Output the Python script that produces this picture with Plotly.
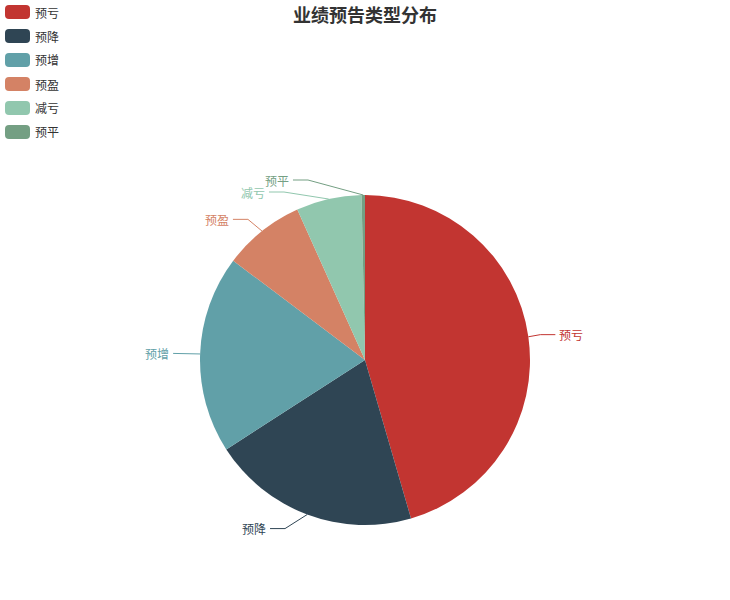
import math
import plotly.graph_objects as go

# 业绩预告类型 counts
categories = ['预亏', '预降', '预增', '预盈', '减亏', '预平']
counts = [1366, 612, 582, 240, 192, 10]
colors = ['#c23531', '#2f4554', '#61a0a8', '#d48265', '#91c7ae', '#749f83']

W, H = 730, 600
cx, cy, r = 365, 360, 165    # pie centre / radius in px
len1, len2 = 15, 15          # label line segments
FONT = 'Noto Sans CJK SC'


def px(sx):
    return sx / W


def py(sy):
    return 1 - sy / H


fig = go.Figure()

fig.add_trace(go.Pie(
    labels=categories, values=counts, sort=False, direction='clockwise',
    rotation=0, marker=dict(colors=colors, line=dict(width=0)),
    textinfo='none', hoverinfo='label+value+percent', showlegend=False,
    domain=dict(x=[px(cx - r), px(cx + r)], y=[py(cy + r), py(cy - r)]),
))

# label layout, roughly like echarts: radial segment, then horizontal one
total = sum(counts)
items = []
acc = 0
for name, v, c in zip(categories, counts, colors):
    mid = math.radians((acc + v / 2) / total * 360)
    acc += v
    s, co = math.sin(mid), math.cos(mid)
    d = 1 if s >= 0 else -1
    p1x = cx + (r + len1) * s
    items.append(dict(name=name, color=c, d=d,
                      x0=cx + r * s, y0=cy - r * co,
                      y=cy - (r + len1) * co, lx=p1x + d * len2))

for d in (1, -1):
    side = sorted([it for it in items if it['d'] == d], key=lambda t: t['y'])
    last = -1e9
    for it in side:
        if it['y'] < last + 12:
            it['y'] = last + 12
        last = it['y']
    up = [it for it in side if it['y'] < cy]
    down = [it for it in side if it['y'] >= cy]
    R = r + len1 + len2
    prev = 0
    for it in up:
        dy = abs(it['y'] - cy)
        dx = math.sqrt(R * R - dy * dy) if dy < r + len1 else abs(it['lx'] - cx)
        if dx <= prev:
            dx = prev + 10
        it['lx'] = cx + d * dx
        prev = dx
    prev = float('inf')
    for it in down:
        dy = abs(it['y'] - cy)
        dx = math.sqrt(R * R - dy * dy) if dy < r + len1 else abs(it['lx'] - cx)
        if dx >= prev:
            dx = prev - 10
        it['lx'] = cx + d * dx
        prev = dx

annotations = []
for it in items:
    d = it['d']
    end = it['lx'] - d * 3
    fig.add_trace(go.Scatter(
        x=[px(it['x0']), px(end - d * len2), px(end)],
        y=[py(it['y0']), py(it['y']), py(it['y'])],
        mode='lines', line=dict(color=it['color'], width=1),
        hoverinfo='skip', showlegend=False))
    annotations.append(dict(
        x=px(it['lx'] - d * 1), y=py(it['y']), xref='paper', yref='paper', text=it['name'],
        showarrow=False, xanchor='left' if d > 0 else 'right', yanchor='middle',
        font=dict(family=FONT, size=12, color=it['color'])))


# legend drawn by hand: rounded rect icons, 24px apart
def round_rect(x0, y0, x1, y1, rr):
    X0, X1, Y0, Y1 = px(x0), px(x1), py(y0), py(y1)
    ax, ay = rr / W, rr / H
    return (f'M{X0 + ax},{Y0} L{X1 - ax},{Y0} Q{X1},{Y0} {X1},{Y0 - ay} '
            f'L{X1},{Y1 + ay} Q{X1},{Y1} {X1 - ax},{Y1} L{X0 + ax},{Y1} '
            f'Q{X0},{Y1} {X0},{Y1 + ay} L{X0},{Y0 - ay} Q{X0},{Y0} {X0 + ax},{Y0} Z')


shapes = []
for i, (name, c) in enumerate(zip(categories, colors)):
    top = 5 + 24 * i
    shapes.append(dict(type='path', xref='paper', yref='paper',
                       path=round_rect(5, top, 30, top + 14, 4),
                       fillcolor=c, line=dict(width=0)))
    annotations.append(dict(x=px(33), y=py(top + 7), xref='paper', yref='paper', text=name,
                            showarrow=False, xanchor='left', yanchor='middle',
                            font=dict(family=FONT, size=12, color='#333')))

fig.update_layout(
    width=W, height=H, margin=dict(l=0, r=0, t=0, b=0),
    paper_bgcolor='white', plot_bgcolor='rgba(0,0,0,0)',
    title=dict(text='业绩预告类型分布', x=px(365), xanchor='center', y=py(16),
               yanchor='middle', font=dict(family=FONT, size=18, color='#333', weight='bold')),
    xaxis=dict(range=[0, 1], visible=False, fixedrange=True, domain=[0, 1]),
    yaxis=dict(range=[0, 1], visible=False, fixedrange=True, domain=[0, 1]),
    shapes=shapes, annotations=annotations, showlegend=False,
    font=dict(family=FONT),
)

# drop the default 8px page margin so the chart sits at the window's corner
fig.write_html("out.html", config={'displayModeBar': False},
               post_script="document.body.style.margin='0';")
